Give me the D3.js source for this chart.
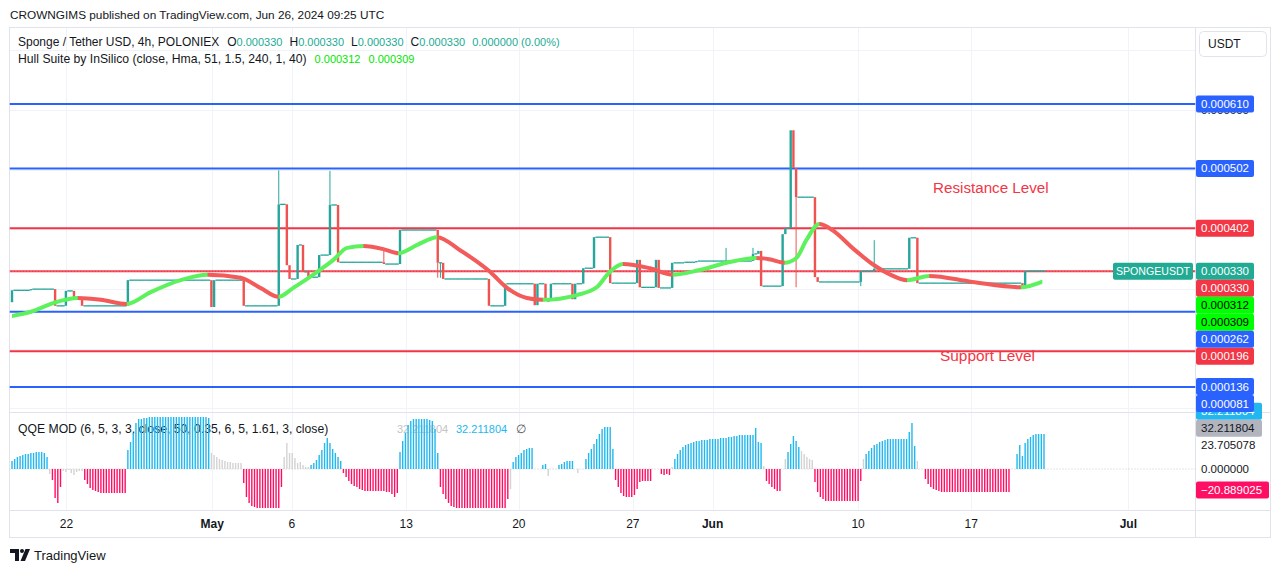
<!DOCTYPE html>
<html>
<head>
<meta charset="UTF-8">
<title>SPONGEUSDT 4h chart</title>
<script src="https://d3js.org/d3.v7.min.js"></script>
<style>
  body { margin: 0; background: #ffffff; }
  svg { display: block; font-family: "Liberation Sans", Arial, sans-serif; }
</style>
</head>
<body>
<script>

const svgWidth = 1281;
const svgHeight = 573;

// chart frame
const frameLeft = 9.5, frameRight = 1270.5, frameTop = 27.5, frameBottom = 537.5;
const axisLeft = 1195.5;
const paneSplit = 412;
const timeAxisTop = 510.5;

// ---- data ----

// candles: each run starts with a move to the level, then flat 4h bars
const firstOpen = 0.000278;
const candleLevels = [
  0.000298, 0.000300, 0.000272, 0.000297, 0.000283, 0.000272, 0.000315, 0.000270, 0.000315, 0.000272,
  0.000442, 0.000340, 0.000317, 0.000374, 0.000329, 0.000320, 0.000357, 0.000441, 0.000345, 0.000342,
  0.000399, 0.000344, 0.000317, 0.000272, 0.000309, 0.000273, 0.000309, 0.000280, 0.000309, 0.000283,
  0.000309, 0.000335, 0.000387, 0.000310, 0.000349, 0.000303, 0.000349, 0.000302, 0.000344, 0.000345,
  0.000347, 0.000359, 0.000364, 0.000305, 0.000392, 0.000402, 0.000566, 0.000503, 0.000454, 0.000320,
  0.000312, 0.000330, 0.000334, 0.000386, 0.000310, 0.000305, 0.000330
];
const candleRuns = [
  7, 9, 4, 3, 3, 17, 31, 1, 11, 13,
  3, 1, 3, 2, 2, 4, 4, 3, 17, 6,
  14, 2, 17, 6, 11, 1, 3, 2, 8, 1,
  3, 4, 6, 10, 1, 6, 1, 5, 4, 5,
  21, 2, 1, 8, 1, 2, 1, 1, 7, 1,
  16, 5, 13, 3, 39, 1, 8
];
const wickBars   = [99, 118, 138, 158, 159, 265, 275, 291, 315, 320];
const wickPrices = [0.000499, 0.000498, 0.000364, 0.000319, 0.000319, 0.000369, 0.000369, 0.000303, 0.000305, 0.000382];

// Hull Suite line
const hullBars = [0, 7, 15.5, 24.4, 33, 42.6, 51.5, 62.6, 72.6, 84.8, 92.2, 98.9, 104.4, 113.3, 119.3, 124.4,
  130.4, 137.8, 143.3, 150.4, 157.8, 166.3, 177.4, 183.7, 191.1, 197, 209.6, 217, 221.9, 226.7, 236.7,
  245.2, 255.2, 265.2, 276.3, 281, 286.7, 291.1, 294.8, 299.6, 304.4, 311.9, 319.3, 325.6, 332.2, 340.4,
  356.3, 374.4, 382.2];
const hullValues = [0.000255, 0.000262, 0.000277, 0.000285, 0.000282, 0.000275, 0.000295, 0.000315, 0.000324,
  0.000319, 0.000302, 0.000287, 0.000302, 0.000329, 0.000349, 0.000369, 0.000372, 0.000367, 0.000360,
  0.000374, 0.000387, 0.000365, 0.000329, 0.000302, 0.000285, 0.000282, 0.000290, 0.000303, 0.000329,
  0.000342, 0.000335, 0.000324, 0.000332, 0.000344, 0.000352, 0.000350, 0.000344, 0.000352, 0.000382,
  0.000409, 0.000399, 0.000369, 0.000342, 0.000325, 0.000315, 0.000322, 0.000312, 0.000303, 0.000312];

// horizontal levels drawn on the chart
const levelPrices = [0.000610, 0.000502, 0.000402, 0.000330, 0.000262, 0.000196, 0.000136, 0.000081];
const levelKinds  = ["blue", "blue", "red", "red", "blue", "red", "blue", "blue"];
const lastPrice = 0.000330;
const hullLast = [0.000312, 0.000309];
const priceGrid = [0.0007, 0.0006, 0.0005, 0.0004, 0.0003, 0.0002, 0.0001];
const visibleTick = 0.0006;

// QQE MOD histogram, one value per bar
const qqeValues = [
  8, 10, 12, 13, 14, 15, 15, 16, 16, 17, 17, 17, 16, 12,
  -5,
  -11, -29, -34, -18,
  -2, -3, -1, -4, -6, -3, -2, -2,
  -11, -15, -19, -21, -22, -23, -24, -24, -24, -24, -24, -24, -24, -24, -24, -24,
  19, 27, 36, 46, 50, 50, 51, 51, 52, 52, 52, 52, 52, 52, 52, 52, 52, 52, 52, 52, 52, 52, 52, 52, 52, 52, 52, 52, 52, 52, 51,
  16, 14, 12, 10, 9, 8, 7, 7, 6, 6, 6, 6,
  -14, -28, -34, -37, -38, -39, -39, -39, -39, -39, -39, -39, -39, -39, -18,
  12, 26, 16, 16, 11, 6, 7, 4, 2, 2,
  4, 6, 9, 14, 19, 26, 31, 26, 20, 16, 12, 8,
  -4, -8, -12, -15, -17, -18, -20, -21, -22, -22, -22, -22, -22, -22, -22, -22, -23, -23, -25, -28, -24,
  17, 28, 36, 44, 48, 50, 50, 50, 50, 50, 50, 49, 48, 40, 16,
  -18, -25, -30, -34, -37, -38, -39, -39, -39, -39, -39, -39, -39, -39, -39, -39, -39, -39, -39, -39, -39, -39, -39, -39, -39, -30,
  -20,
  7, 12, 14, 16, 19, 20, 21, 21,
  0, 0, 0,
  4, 5,
  -7,
  0, 0, 0,
  4, 5, 7, 8, 8, 8,
  0, -4, 0, 0,
  10, 16, 20, 25, 30, 35, 40, 42, 42, 42, 20,
  -11, -18, -24, -27, -28, -28, -28, -26, -20, -13, -12, -12, -12, -12,
  0, 0, 0,
  -5, -6, -5, -6,
  2,
  10, 15, 19, 22, 24, 25, 26, 27, 28, 28, 29, 29, 29, 30, 30, 30, 30, 31, 31, 31, 32, 32, 33, 33, 34, 34, 34, 34, 34, 34,
  41, 27, 26,
  3,
  -12, -15, -18, -20, -22, -22,
  0, 10,
  17, 25, 33, 28, 22,
  18, 15, 12, 10, 9,
  -13, -23, -28, -30, -32, -32, -32, -32, -32, -32, -32, -32, -32, -32, -32, -32, -32, -12,
  10,
  15, 18, 21, 24, 25, 27, 28, 29, 30, 30, 30, 30, 30, 30, 30, 30, 37,
  46, 23, 8,
  0, 0,
  -10, -15, -18, -20, -21, -22, -23, -23, -23, -23, -23, -23, -23, -23, -23, -23, -23, -23, -23, -23, -23, -23, -23, -23, -23, -23, -23, -23, -23, -23, -23, -23,
  0, 0,
  15, 24, 13, 26, 30, 32, 34, 35, 35, 35, 35
];
const qqeGrayRuns = [[14, 14], [19, 26], [74, 85], [101, 110], [185, 185], [199, 199], [209, 212],
  [245, 245], [279, 279], [286, 287], [293, 297], [316, 316], [336, 336]];
const qqeLast = 32.211804, qqeUpper = 23.705078, qqeLower = -20.889025;

// time axis
const tickBars = [20.2, 74.3, 103.9, 146.3, 188.1, 230.4, 260, 314, 356, 414.3];
const tickLabels = ["22", "May", "6", "13", "20", "27", "Jun", "10", "17", "Jul"];

// ---- scales ----
const xScale = d3.scaleLinear().domain([0, 383]).range([12, 1044]);
const yScale = d3.scaleLinear().domain([0.000136, 0.000610]).range([387, 104]);
const qScale = d3.scaleLinear().domain([0, qqeUpper]).range([469, 469 - qqeUpper]);
const barW = xScale(1) - xScale(0);

const colors = {
  up: "#26a69a", down: "#ef5350", blue: "#2962ff", red: "#f23645",
  hullUp: "#5df25d", hullDown: "#f35b5b", qBlue: "#22b8ef", qPink: "#ff0f64", qGray: "#d3d3d3",
  text: "#131722", grid: "#f0f3fa", border: "#e0e3eb", value: "#22ab94"
};

const svg = d3.select("body").append("svg")
  .attr("width", svgWidth)
  .attr("height", svgHeight);

svg.append("defs").append("clipPath").attr("id", "mainClip")
  .append("rect").attr("x", frameLeft).attr("y", frameTop)
  .attr("width", axisLeft - frameLeft).attr("height", paneSplit - frameTop);

// header
svg.append("text").attr("x", 10).attr("y", 19)
  .attr("font-size", 11.8).attr("fill", colors.text)
  .text("CROWNGIMS published on TradingView.com, Jun 26, 2024 09:25 UTC");

// grid
const grid = svg.append("g").attr("stroke", colors.grid).attr("stroke-width", 1);
tickBars.forEach(b => {
  const gx = Math.round(xScale(b)) + 0.5;
  grid.append("line").attr("x1", gx).attr("x2", gx).attr("y1", frameTop).attr("y2", timeAxisTop);
});
priceGrid.forEach(p => {
  const gy = Math.round(yScale(p)) + 0.5;
  if (gy > frameTop && gy < paneSplit)
    grid.append("line").attr("x1", frameLeft).attr("x2", axisLeft).attr("y1", gy).attr("y2", gy);
});

// frame
const frame = svg.append("g").attr("stroke", colors.border).attr("fill", "none");
frame.append("rect").attr("x", frameLeft).attr("y", frameTop)
  .attr("width", frameRight - frameLeft).attr("height", frameBottom - frameTop);
frame.append("line").attr("x1", axisLeft).attr("x2", axisLeft).attr("y1", frameTop).attr("y2", frameBottom);
frame.append("line").attr("x1", frameLeft).attr("x2", frameRight).attr("y1", paneSplit + 0.5).attr("y2", paneSplit + 0.5);
frame.append("line").attr("x1", frameLeft).attr("x2", frameRight).attr("y1", timeAxisTop).attr("y2", timeAxisTop);

// main pane
const main = svg.append("g").attr("clip-path", "url(#mainClip)");

// level lines
levelPrices.forEach((p, k) => {
  main.append("line")
    .attr("x1", frameLeft).attr("x2", axisLeft)
    .attr("y1", yScale(p)).attr("y2", yScale(p))
    .attr("stroke", colors[levelKinds[k]]).attr("stroke-width", 2);
});
main.append("line")
  .attr("x1", frameLeft).attr("x2", axisLeft)
  .attr("y1", yScale(lastPrice)).attr("y2", yScale(lastPrice))
  .attr("stroke", "#ffffff").attr("stroke-width", 1).attr("stroke-dasharray", "1 2").attr("opacity", 0.5);

// candles from runs
const candles = [];
let prev = firstOpen;
candleLevels.forEach((lv, k) => {
  for (let n = 0; n < candleRuns[k]; n++) {
    candles.push({i: candles.length, o: n === 0 ? prev : lv, c: lv});
  }
  prev = lv;
});

main.selectAll(".flat")
  .data(candles.filter(d => d.o === d.c))
  .enter().append("rect")
  .attr("x", d => xScale(d.i) - barW / 2)
  .attr("y", d => yScale(d.c) - 0.6)
  .attr("width", barW + 0.2)
  .attr("height", 1.3)
  .attr("fill", colors.up);

const wickG = main.append("g").attr("stroke-width", 1);
wickBars.forEach((b, k) => {
  const cd = candles[b];
  const top = Math.max(cd.o, cd.c), bot = Math.min(cd.o, cd.c);
  const from = wickPrices[k] > top ? top : bot;
  wickG.append("line")
    .attr("x1", xScale(b)).attr("x2", xScale(b))
    .attr("y1", yScale(from)).attr("y2", yScale(wickPrices[k]))
    .attr("stroke", cd.c >= cd.o ? colors.up : colors.down);
});

main.selectAll(".body")
  .data(candles.filter(d => d.o !== d.c))
  .enter().append("rect")
  .attr("x", d => xScale(d.i) - 1.2)
  .attr("y", d => yScale(Math.max(d.o, d.c)))
  .attr("width", 2.4)
  .attr("height", d => Math.max(1.3, Math.abs(yScale(d.o) - yScale(d.c))))
  .attr("fill", d => d.c > d.o ? colors.up : colors.down);

// Hull Suite, coloured by direction
const hullPts = hullBars.map((b, k) => [xScale(b), yScale(hullValues[k])]);
const hullPath = d3.line().curve(d3.curveMonotoneX)(hullPts);
const defs = svg.select("defs");
for (let k = 0; k < hullPts.length - 1; k++) {
  const rising = hullValues[k + 1] > hullValues[k];
  defs.append("clipPath").attr("id", "hc" + k)
    .append("rect").attr("x", hullPts[k][0]).attr("y", 0)
    .attr("width", hullPts[k + 1][0] - hullPts[k][0] + 0.5).attr("height", svgHeight);
  main.append("path").attr("d", hullPath)
    .attr("clip-path", "url(#hc" + k + ")")
    .attr("fill", "none")
    .attr("stroke", rising ? colors.hullUp : colors.hullDown)
    .attr("stroke-width", 4)
    .attr("stroke-linecap", "round");
}

// annotations
main.append("text").attr("x", 933).attr("y", 193)
  .attr("font-size", 15.2).attr("fill", colors.red).text("Resistance Level");
main.append("text").attr("x", 940).attr("y", 361)
  .attr("font-size", 15.4).attr("fill", colors.red).text("Support Level");

// legend
const leg1 = svg.append("text").attr("x", 18).attr("y", 46).attr("font-size", 12).attr("fill", colors.text);
leg1.append("tspan").text("Sponge / Tether USD, 4h, POLONIEX");
[["O", "0.000330"], ["H", "0.000330"], ["L", "0.000330"], ["C", "0.000330"]].forEach(([k, v], n) => {
  leg1.append("tspan").attr("dx", n === 0 ? 8 : 7).text(k);
  leg1.append("tspan").attr("font-size", 11).attr("fill", colors.value).text(v);
});
leg1.append("tspan").attr("dx", 7).attr("font-size", 11).attr("fill", colors.value).text("0.000000 (0.00%)");

const leg2 = svg.append("text").attr("x", 18).attr("y", 63).attr("font-size", 12.2).attr("fill", colors.text);
leg2.append("tspan").text("Hull Suite by InSilico (close, Hma, 51, 1.5, 240, 1, 40)");
hullLast.forEach(v => leg2.append("tspan").attr("dx", 8).attr("font-size", 11).attr("fill", "#00e600").text(v.toFixed(6)));

// QQE pane
svg.append("text").attr("x", 18).attr("y", 433).attr("font-size", 12.2).attr("fill", colors.text)
  .text("QQE MOD (6, 5, 3, 3, close, 50, 0.35, 6, 5, 1.61, 3, close)");
svg.append("text").attr("x", 397).attr("y", 433).attr("font-size", 11).attr("fill", "#c4c4c4")
  .text(qqeLast.toFixed(6));

svg.append("line").attr("x1", frameLeft).attr("x2", axisLeft).attr("y1", qScale(0)).attr("y2", qScale(0))
  .attr("stroke", "#c9c9c9").attr("stroke-dasharray", "1 2");

const isGray = i => qqeGrayRuns.some(r => i >= r[0] && i <= r[1]);
svg.append("g").selectAll("rect")
  .data(qqeValues.map((v, i) => ({i, v})).filter(d => d.v !== 0))
  .enter().append("rect")
  .attr("x", d => xScale(d.i) - 0.7)
  .attr("y", d => Math.min(qScale(d.v), qScale(0)))
  .attr("width", 1.4)
  .attr("height", d => Math.abs(qScale(d.v) - qScale(0)))
  .attr("fill", d => isGray(d.i) ? colors.qGray : (d.v > 0 ? colors.qBlue : colors.qPink));

const leg3 = svg.append("text").attr("x", 456).attr("y", 433).attr("font-size", 11);
leg3.append("tspan").attr("fill", colors.qBlue).text(qqeLast.toFixed(6));
leg3.append("tspan").attr("dx", 9).attr("font-size", 12).attr("fill", "#555").text("\u2205");

// time axis
svg.append("g").selectAll("text")
  .data(tickBars)
  .enter().append("text")
  .attr("x", d => xScale(d))
  .attr("y", 528)
  .attr("text-anchor", "middle")
  .attr("font-size", 12)
  .attr("font-weight", (d, k) => /[A-Za-z]/.test(tickLabels[k]) ? 600 : 400)
  .attr("fill", colors.text)
  .text((d, k) => tickLabels[k]);

// price axis labels
const labelH = 17;
function drawLabel(yc, txt, bg, fg, w) {
  if (bg) svg.append("rect").attr("x", 1196).attr("y", yc - labelH / 2).attr("width", w)
    .attr("height", labelH).attr("rx", 2).attr("fill", bg);
  svg.append("text").attr("x", 1201).attr("y", yc + 4).attr("font-size", 11.5)
    .attr("fill", fg).text(txt);
}

// the one plain tick label that peeks out under the coloured labels
drawLabel(yScale(visibleTick), visibleTick.toFixed(6), null, colors.text);

// QQE labels pushed upward from the bottom
const qItems = [
  {v: qqeLast, txt: qqeLast.toFixed(6), bg: colors.qBlue, fg: "#fff"},
  {v: qqeLast, txt: qqeLast.toFixed(6), bg: "#b2b5be", fg: colors.text},
  {v: qqeUpper, txt: qqeUpper.toFixed(6), bg: null, fg: colors.text},
  {v: 0, txt: (0).toFixed(6), bg: null, fg: colors.text},
  {v: qqeLower, txt: "\u2212" + Math.abs(qqeLower).toFixed(6), bg: colors.qPink, fg: "#fff"}
];
const qPos = qItems.map(d => qScale(d.v));
for (let k = qPos.length - 2; k >= 0; k--) qPos[k] = Math.min(qPos[k], qPos[k + 1] - labelH);
qItems.forEach((d, k) => drawLabel(qPos[k], d.txt, d.bg, d.fg, d.bg === colors.qPink ? 73 : 66));

// main labels pushed downward, clamped at the pane bottom
const mItems = [];
levelPrices.forEach((p, k) => mItems.push({p, txt: p.toFixed(6), bg: colors[levelKinds[k]], fg: "#fff", ord: 0}));
mItems.push({p: lastPrice, txt: lastPrice.toFixed(6), bg: colors.value, fg: "#fff", ord: -1, sym: true});
hullLast.forEach((p, k) => mItems.push({p, txt: p.toFixed(6), bg: "#00ff00", fg: "#000", ord: k}));
mItems.sort((a, b) => b.p - a.p || a.ord - b.ord);
const mPos = mItems.map(d => yScale(d.p));
for (let k = 1; k < mPos.length; k++) mPos[k] = Math.max(mPos[k], mPos[k - 1] + labelH);
const bottomLimit = paneSplit - labelH / 2;
if (mPos[mPos.length - 1] > bottomLimit) mPos[mPos.length - 1] = bottomLimit;
for (let k = mPos.length - 2; k >= 0; k--) mPos[k] = Math.min(mPos[k], mPos[k + 1] - labelH);
mItems.forEach((d, k) => {
  drawLabel(mPos[k], d.txt, d.bg, d.fg, 58);
  if (d.sym) {
    svg.append("rect").attr("x", 1113).attr("y", mPos[k] - labelH / 2).attr("width", 80)
      .attr("height", labelH).attr("rx", 2).attr("fill", d.bg);
    svg.append("text").attr("x", 1153).attr("y", mPos[k] + 4).attr("text-anchor", "middle")
      .attr("font-size", 10.6).attr("fill", "#fff").text("SPONGEUSDT");
  }
});

// USDT box
svg.append("rect").attr("x", 1199.5).attr("y", 31.5).attr("width", 67).attr("height", 25).attr("rx", 4)
  .attr("fill", "#fff").attr("stroke", colors.border);
svg.append("text").attr("x", 1208).attr("y", 48).attr("font-size", 12).attr("fill", colors.text).text("USDT");

// footer
const logo = svg.append("g").attr("fill", colors.text);
logo.append("path").attr("d", "M10 549h9v12h-4v-8h-5z");
logo.append("circle").attr("cx", 22).attr("cy", 551).attr("r", 2);
logo.append("path").attr("d", "M25.5 549h4.5l-5 12h-4.5z");
svg.append("text").attr("x", 34).attr("y", 560).attr("font-size", 13).attr("fill", colors.text).text("TradingView");

</script>
</body>
</html>
